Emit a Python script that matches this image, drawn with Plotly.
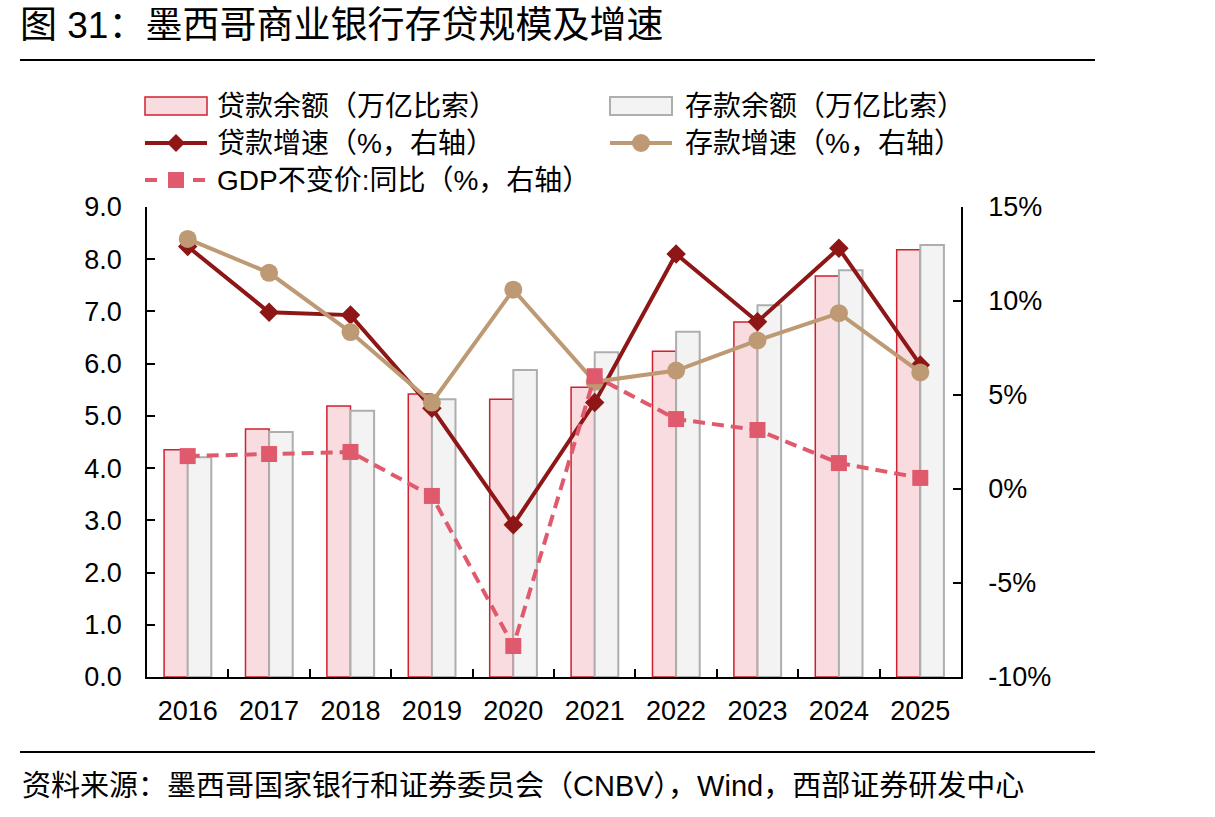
import plotly.graph_objects as go

years = ["2016", "2017", "2018", "2019", "2020", "2021", "2022", "2023", "2024", "2025"]
loan_balance = [4.35, 4.75, 5.19, 5.42, 5.32, 5.55, 6.24, 6.80, 7.68, 8.18]
deposit_balance = [4.21, 4.69, 5.10, 5.32, 5.88, 6.22, 6.61, 7.12, 7.79, 8.27]
loan_growth = [12.9, 9.4, 9.25, 4.3, -1.9, 4.6, 12.5, 8.9, 12.8, 6.6]
deposit_growth = [13.3, 11.5, 8.35, 4.6, 10.6, 5.7, 6.3, 7.9, 9.35, 6.2]
gdp_growth = [1.75, 1.86, 1.97, -0.37, -8.35, 6.0, 3.72, 3.14, 1.38, 0.59]
right_ticks = [-10, -5, 0, 5, 10, 15]
right_tick_text = ["-10%", "-5%", "0%", "5%", "10%", "15%"]

names = ["贷款余额（万亿比索）", "存款余额（万亿比索）", "贷款增速（%，右轴）",
         "存款增速（%，右轴）", "GDP不变价:同比（%，右轴）"]

FONT = "Liberation Sans, Arial, Noto Sans CJK SC, sans-serif"
C_LOAN_FILL, C_LOAN_EDGE = "#F9DCE0", "#D0202E"
C_DEP_FILL, C_DEP_EDGE = "#F3F3F3", "#AEAEAE"
C_LG, C_DG, C_GDP = "#8E1616", "#BD9A74", "#E05A6D"

fig = go.Figure()
fig.add_trace(go.Bar(x=years, y=loan_balance, name=names[0],
                     marker=dict(color=C_LOAN_FILL, line=dict(color=C_LOAN_EDGE, width=1.5))))
fig.add_trace(go.Bar(x=years, y=deposit_balance, name=names[1],
                     marker=dict(color=C_DEP_FILL, line=dict(color=C_DEP_EDGE, width=2))))
fig.add_trace(go.Scatter(x=years, y=loan_growth, name=names[2], yaxis="y2", mode="lines+markers",
                         line=dict(color=C_LG, width=4),
                         marker=dict(symbol="diamond", size=15, color=C_LG)))
fig.add_trace(go.Scatter(x=years, y=deposit_growth, name=names[3], yaxis="y2", mode="lines+markers",
                         line=dict(color=C_DG, width=4),
                         marker=dict(symbol="circle", size=18, color=C_DG)))
fig.add_trace(go.Scatter(x=years, y=gdp_growth, name=names[4], yaxis="y2", mode="lines+markers",
                         line=dict(color=C_GDP, width=4, dash="12px,7px"),
                         marker=dict(symbol="square", size=16, color=C_GDP)))

L, R, T, B = 147, 254, 207, 140
PW, PH = 1215 - L - R, 817 - T - B


def px_x(x):
    return (x - L) / PW


def px_y(y):
    return (817 - B - y) / PH


fig.update_layout(
    width=1215, height=817,
    margin=dict(l=L, r=R, t=T, b=B, pad=0),
    paper_bgcolor="white", plot_bgcolor="white",
    font=dict(family=FONT, size=26, color="black"),
    barmode="group", bargap=0.42, bargroupgap=0,
    showlegend=False,
    xaxis=dict(type="category", range=[-0.5, 9.5], showline=True, linecolor="black", linewidth=1.5,
               ticks="inside", ticklen=8, tickcolor="black", tickwidth=1.5,
               tickson="boundaries", showgrid=False, ticklabelstandoff=9,
               tickfont=dict(size=27)),
    yaxis=dict(range=[0, 9], dtick=1, tickformat=".1f", showline=True, linecolor="black",
               linewidth=1.5, ticks="inside", ticklen=8, tickcolor="black", tickwidth=1.5,
               showgrid=False, zeroline=False, ticklabelstandoff=18, tickfont=dict(size=27)),
    yaxis2=dict(range=[-10, 15], tickvals=right_ticks, ticktext=right_tick_text,
                overlaying="y", side="right",
                showline=True, linecolor="black", linewidth=1.5, ticks="inside", ticklen=8,
                tickcolor="black", tickwidth=1.5, showgrid=False, zeroline=False,
                ticklabelstandoff=20, tickfont=dict(size=27)),
)

# ---- custom legend (two columns, wide symbols) ----
def legend_text(txt, x, y):
    fig.add_annotation(text=txt, xref="paper", yref="paper", x=px_x(x), y=px_y(y),
                       xanchor="left", yanchor="middle", showarrow=False,
                       font=dict(family=FONT, size=28, color="black"))


def legend_rect(x0, x1, y, fill, edge, w):
    fig.add_shape(type="rect", xref="paper", yref="paper", x0=px_x(x0), x1=px_x(x1),
                  y0=px_y(y - 9), y1=px_y(y + 9), fillcolor=fill, line=dict(color=edge, width=w))


def legend_line(x0, x1, y, color, dash="solid"):
    fig.add_shape(type="line", xref="paper", yref="paper", x0=px_x(x0), x1=px_x(x1),
                  y0=px_y(y), y1=px_y(y), line=dict(color=color, width=4, dash=dash))


def legend_diamond(cx, cy, r, color):
    pts = [(cx, cy - r), (cx + r, cy), (cx, cy + r), (cx - r, cy)]
    path = "M " + " L ".join(f"{px_x(a)},{px_y(b)}" for a, b in pts) + " Z"
    fig.add_shape(type="path", xref="paper", yref="paper", path=path, fillcolor=color,
                  line=dict(color=color, width=0))


def legend_square(cx, cy, r, color):
    fig.add_shape(type="rect", xref="paper", yref="paper", x0=px_x(cx - r), x1=px_x(cx + r),
                  y0=px_y(cy + r), y1=px_y(cy - r), fillcolor=color, line=dict(color=color, width=0))


def legend_circle(cx, cy, r, color):
    fig.add_shape(type="circle", xref="paper", yref="paper", x0=px_x(cx - r), x1=px_x(cx + r),
                  y0=px_y(cy + r), y1=px_y(cy - r), fillcolor=color, line=dict(color=color, width=0))


C1S, C1E, C1T = 145, 207, 215
C2S, C2E, C2T = 610, 672, 683
R1, R2, R3 = 106, 143, 180

legend_rect(C1S, C1E, R1, C_LOAN_FILL, C_LOAN_EDGE, 1.5)
legend_text(names[0], C1T, R1)
legend_rect(C2S, C2E, R1, C_DEP_FILL, C_DEP_EDGE, 2)
legend_text(names[1], C2T, R1)
legend_line(C1S, C1E, R2, C_LG)
legend_diamond((C1S + C1E) / 2, R2, 9, C_LG)
legend_text(names[2], C1T, R2)
legend_line(C2S, C2E, R2, C_DG)
legend_circle((C2S + C2E) / 2, R2, 9, C_DG)
legend_text(names[3], C2T, R2)
legend_line(C1S, C1E, R3, C_GDP, dash="dash")
legend_square((C1S + C1E) / 2, R3, 8, C_GDP)
legend_text(names[4], C1T, R3)

# ---- title, source and rules ----
fig.add_annotation(text="图 31：墨西哥商业银行存贷规模及增速", xref="paper", yref="paper",
                   x=px_x(18), y=px_y(25), xanchor="left", yanchor="middle", showarrow=False,
                   font=dict(family=FONT, size=37, color="black"))
fig.add_annotation(text="资料来源：墨西哥国家银行和证券委员会（CNBV），Wind，西部证券研发中心",
                   xref="paper", yref="paper", x=px_x(20), y=px_y(786), xanchor="left",
                   yanchor="middle", showarrow=False,
                   font=dict(family=FONT, size=29, color="black"))
fig.add_shape(type="line", xref="paper", yref="paper", x0=px_x(20), x1=px_x(1095),
              y0=px_y(60), y1=px_y(60), line=dict(color="black", width=2))
fig.add_shape(type="line", xref="paper", yref="paper", x0=px_x(20), x1=px_x(1095),
              y0=px_y(752), y1=px_y(752), line=dict(color="black", width=2))

fig.write_html("out.html")
